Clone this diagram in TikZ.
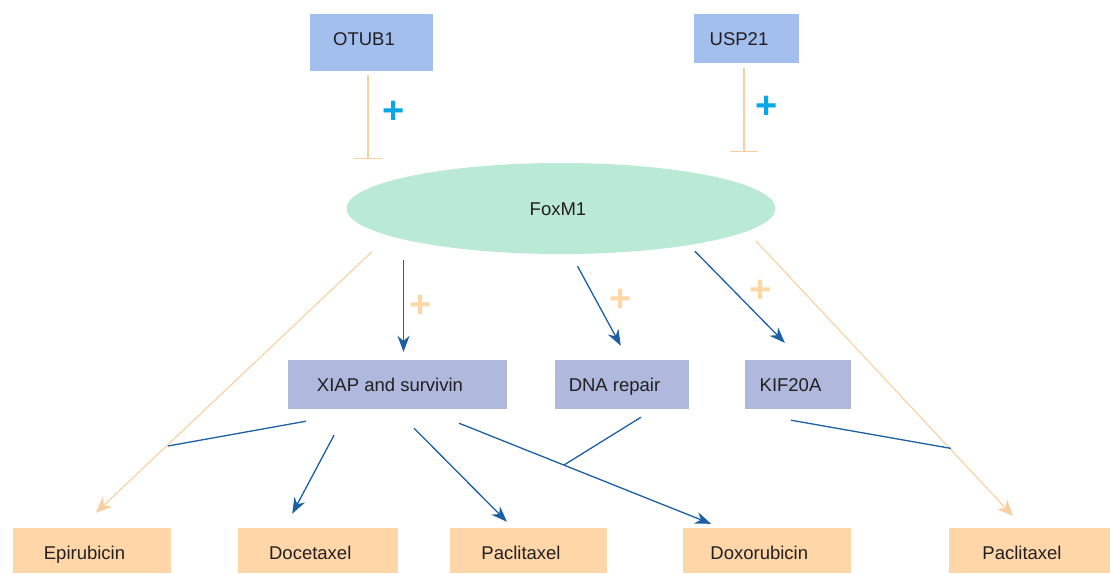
\documentclass[tikz,border=0pt]{standalone}
\usepackage{fontspec}
\setmainfont{Liberation Sans}
\usetikzlibrary{arrows.meta,shapes.geometric}

\definecolor{txt}{HTML}{231F20}
\definecolor{topfill}{HTML}{A2BFEE}
\definecolor{midfill}{HTML}{AFB9DD}
\definecolor{drugfill}{HTML}{FFD6A8}
\definecolor{hubfill}{HTML}{BAEAD5}
\definecolor{actblue}{HTML}{1D5FA3}
\definecolor{inhorange}{HTML}{F9CFA1}
\definecolor{plusblue}{HTML}{0BA6E6}
\definecolor{plusorange}{HTML}{FDD8A6}

\begin{document}
\begin{tikzpicture}[x=1pt, y=-1pt]
	\tikzset{label/.style={inner sep=0pt, text=txt, font=\fontsize{18.5}{20}\selectfont, text height=13.3pt, text depth=0pt},
		box/.style={label, rectangle, execute at end node={\hspace*{15pt}}},
		topbox/.style={box, fill=topfill},
		midbox/.style={box, fill=midfill, minimum height=49pt},
		drugbox/.style={box, fill=drugfill, minimum height=45pt, text height=18pt},
		hub/.style={label, ellipse, fill=hubfill, minimum width=429pt, minimum height=91pt, execute at end node={\hspace*{6pt}}},
		plus/.style={inner sep=0pt, font=\fontsize{38}{40}\selectfont\bfseries},
		act/.style={draw=actblue, line width=1.3pt, -{Stealth[length=16pt, width=12pt]}},
		link/.style={draw=actblue, line width=1.3pt},
		drug/.style={draw=inhorange, line width=1.1pt, -{Stealth[length=16pt, width=14pt]}},
		inhibit/.style={draw=inhorange, line width=1.5pt, -{Bar[width=28pt]}}};
	\useasboundingbox (0,0) rectangle (1110,573);

	\node[topbox, minimum width=123pt, minimum height=57pt, text depth=7pt] (otub) at (371.5,42.5) {OTUB1};
	\node[topbox, minimum width=105pt, minimum height=49pt] (usp) at (746.5,38.5) {USP21};
	\node[hub] (foxm1) at (561,208.5) {FoxM1};

	\node[midbox, minimum width=219pt] (xiap) at (397.5,384.5) {XIAP and survivin};
	\node[midbox, minimum width=134pt] (dna) at (622,384.5) {DNA repair};
	\node[midbox, minimum width=106pt] (kif) at (798,384.5) {KIF20A};

	\node[drugbox, minimum width=158pt] (epi) at (92,550.5) {Epirubicin};
	\node[drugbox, minimum width=159.5pt] (doc) at (317.75,550.5) {Docetaxel};
	\node[drugbox, minimum width=157pt] (pac1) at (528.5,550.5) {Paclitaxel};
	\node[drugbox, minimum width=168.5pt] (dox) at (766.75,550.5) {Doxorubicin};
	\node[drugbox, minimum width=161pt] (pac2) at (1029.5,550.5) {Paclitaxel};

	\node[plus, text=plusblue] (p1) at (394,112) {+};
	\node[plus, text=plusblue] (p2) at (767,107) {+};
	\node[plus, text=plusorange] (p3) at (421,306) {+};
	\node[plus, text=plusorange] (p4) at (621,300) {+};
	\node[plus, text=plusorange] (p5) at (761,291) {+};

	% stop points and joins
	\coordinate (otub-stop) at (368,159);
	\coordinate (usp-stop) at (744,152);
	\coordinate (epi-join) at (168,446);
	\coordinate (dox-join) at (564,465);
	\coordinate (pac-join) at (951,448.4);

	\draw[inhibit, shorten <=4pt] (otub.south -| otub-stop) -- (otub-stop);
	\draw[inhibit, shorten <=5pt] (usp.south -| usp-stop) -- (usp-stop);

	\draw[act, shorten <=6pt, shorten >=8pt] ([xshift=-157.5pt]foxm1.south) -- ([xshift=6pt]xiap.north);
	\draw[act, shorten <=13.6pt, shorten >=16pt] ([xshift=10pt]foxm1.south) -- ([xshift=6.4pt]dna.north);
	\draw[act, shorten <=8.4pt, shorten >=23.7pt] (foxm1.344.3) -- ([xshift=3.5pt]kif.north);
	\draw[drug, shorten <=23pt, shorten >=22pt] (foxm1.189.5) -- ([xshift=-12pt]epi.north);
	\draw[drug, shorten <=13pt, shorten >=16.3pt] (foxm1.353.6) -- ([xshift=-5.5pt]pac2.north);

	\draw[link] ([shift={(-91.5,12)}]xiap.south) -- (epi-join);
	\draw[act, shorten >=15.9pt] ([shift={(-63.5,26)}]xiap.south) -- ([xshift=-33pt]doc.north);
	\draw[act, shorten >=8.5pt] ([shift={(16.5,19)}]xiap.south) -- ([xshift=-15.6pt]pac1.north);
	\draw[act, shorten >=10.75pt] ([shift={(61.5,14)}]xiap.south) -- ([xshift=-45.75pt]dox.north);
	\draw[link] ([shift={(19,8)}]dna.south) -- (dox-join);
	\draw[link] ([shift={(-7,11)}]kif.south) -- (pac-join);
\end{tikzpicture}
\end{document}
